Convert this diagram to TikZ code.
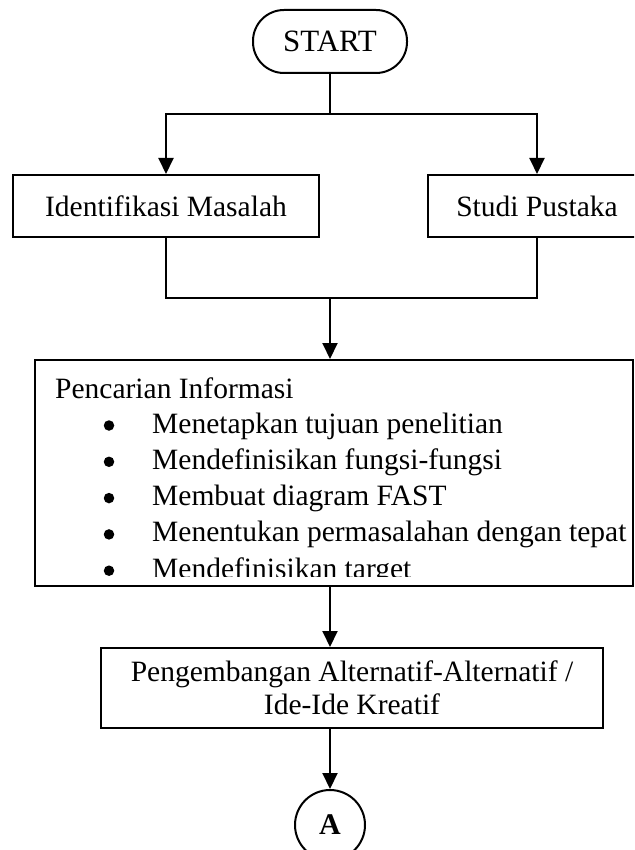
\documentclass[tikz,border=0pt]{standalone}
\usepackage{fontspec}
\setmainfont{Liberation Serif}
\usetikzlibrary{arrows.meta,calc}
\tikzset{
  box/.style={draw,line width=2pt,rectangle,inner sep=0pt,align=center},
  conn/.style={line width=2pt},
  arr/.style={line width=2pt,-{Triangle[length=16pt,width=15pt]}},
  txt/.style={anchor=base west,inner sep=0pt,font=\fontsize{29.5}{35}\selectfont},
  bul/.style={circle,fill,inner sep=0pt,minimum size=10.5pt}
}
\begin{document}
\begin{tikzpicture}[x=1pt,y=-1pt,font=\fontsize{29.5}{33}\selectfont]
\clip (0,0) rectangle (634,850);
\fill[white] (0,0) rectangle (634,850);
% nodes
\node[box,rounded corners=31pt,minimum width=154pt,minimum height=63pt,font=\fontsize{31}{35}\selectfont] (start) at (330,41.5) {START};
\node[box,minimum width=306pt,minimum height=62pt] (ident) at (166,206) {Identifikasi Masalah};
\node[box,minimum width=218pt,minimum height=62pt] (studi) at (537,206) {Studi Pustaka};
\node[box,minimum width=598pt,minimum height=226pt] (info) at (334,473) {};
\begin{scope}
\clip (36,361) rectangle (632,576.5);
\node[txt] (t0) at (55,398) {Pencarian Informasi};
\node[bul] (b1) at (109,425.5) {};
\node[txt] (t1) at (152,433) {Menetapkan tujuan penelitian};
\node[bul] (b2) at (109,461.8) {};
\node[txt] (t2) at (152,469.3) {Mendefinisikan fungsi-fungsi};
\node[bul] (b3) at (109,498.1) {};
\node[txt] (t3) at (152,505.6) {Membuat diagram FAST};
\node[bul] (b4) at (109,534.4) {};
\node[txt] (t4) at (152,541.9) {Menentukan permasalahan dengan tepat};
\node[bul] (b5) at (109,570.7) {};
\node[txt] (t5) at (152,578.2) {Mendefinisikan target};
\end{scope}
\node[box,minimum width=502pt,minimum height=80pt] (peng) at (352,688) {Pengembangan Alternatif-Alternatif /\\Ide-Ide Kreatif};
\node[draw,circle,line width=2pt,minimum size=70pt,inner sep=0pt,font=\fontsize{30}{33}\selectfont\bfseries] (A) at (330,825) {A};
% junctions
\coordinate (j1) at (330,114);
\coordinate (j2) at (330,298);
% connectors
\draw[conn] (start.south) -- (j1);
\draw[arr] (j1) -| (ident.north);
\draw[arr] (j1) -| (studi.north);
\draw[conn] (ident.south) |- (j2) -| (studi.south);
\draw[arr] (j2) -- (j2 |- info.north);
\draw[arr] (j2 |- info.south) -- (j2 |- peng.north);
\draw[arr] (j2 |- peng.south) -- (A.north);
\end{tikzpicture}
\end{document}
